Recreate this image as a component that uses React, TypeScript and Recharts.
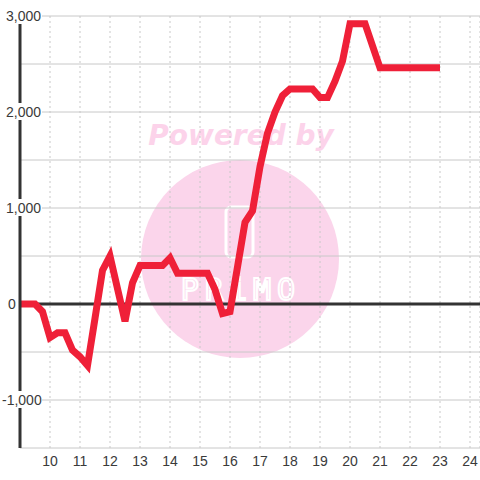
import { LineChart, Line, XAxis, YAxis, CartesianGrid, ReferenceLine } from "recharts";

// time of day (hours) and running total
const hours = [
  9, 9.5, 9.75, 10, 10.25, 10.5, 10.75, 11, 11.25, 11.5, 11.75, 12, 12.5, 12.75, 13, 13.75, 14,
  14.25, 15.25, 15.5, 15.75, 16, 16.5, 16.75, 17, 17.25, 17.5, 17.75, 18, 18.75, 19, 19.25, 19.5,
  19.75, 20, 20.5, 21, 23,
];
const totals = [
  0, 0, -80, -350, -300, -300, -480, -550, -640, -150, 350, 500, -180, 220, 400, 400, 480,
  320, 320, 150, -100, -80, 850, 970, 1430, 1780, 2000, 2170, 2240, 2240, 2150, 2150, 2320,
  2530, 2920, 2920, 2460, 2460,
];
const xTicks = [10, 11, 12, 13, 14, 15, 16, 17, 18, 19, 20, 21, 22, 23, 24];
const yTicks = [-1500, -1000, -500, 0, 500, 1000, 1500, 2000, 2500, 3000];

const data = hours.map((h, i) => ({ h, v: totals[i] }));

const fmt = (v: number) => (v < 0 ? "-" : "") + Math.abs(v).toLocaleString("en-US");

function YTick(props: any) {
  const { y, payload } = props;
  const v = payload.value;
  if (v % 1000 !== 0) return null;
  const label = fmt(v);
  const x = v < 0 ? 2 : v === 0 ? 8 : 6;
  const w = v === 0 ? 12 : 44 - x;
  return (
    <g>
      <rect x={x - 2} y={y - 9} width={w} height={17} fill="#fff" />
      <text x={x} y={y} dy="0.35em" textAnchor="start" fontSize={14} fill="#3a3a3a" fontFamily="Liberation Sans, Arial, sans-serif">
        {label}
      </text>
    </g>
  );
}

function Watermark() {
  return (
    <svg width={480} height={480} style={{ position: "absolute", left: 0, top: 0 }}>
      <circle cx={240} cy={259} r={99} fill="#fbd5eb" />
      <text x={241} y={145} textAnchor="middle" fontSize={28} fontWeight="bold" fontStyle="italic" fill="#fcd3ea" fontFamily="DejaVu Sans, sans-serif">
        Powered by
      </text>
      <rect x={226} y={207} width={27} height={50} rx={5} fill="none" stroke="#fff" strokeWidth={3} />
      <text x={241} y={300} textAnchor="middle" fontSize={30} letterSpacing={6} fill="none" stroke="#fff" strokeWidth={2} fontFamily="DejaVu Sans Mono, monospace">
        PRiMO
      </text>
    </svg>
  );
}

export default function App() {
  return (
    <div style={{ position: "fixed", left: 0, top: 0, width: 480, height: 480, background: "#fff" }}>
      <Watermark />
      <div style={{ position: "absolute", left: 0, top: 0 }}>
        <LineChart width={480} height={480} data={data} margin={{ top: 16, right: 0, bottom: 2, left: 0 }}>
          <CartesianGrid horizontal={false} stroke="#c8c8c8" strokeDasharray="2 3" />
          <CartesianGrid vertical={false} stroke="#c8c8c8" />
          <XAxis
            dataKey="h"
            type="number"
            domain={[9, 24 + 1 / 3]}
            ticks={xTicks}
            height={30}
            axisLine={false}
            tickLine={false}
            allowDataOverflow
            tick={{ fontSize: 14, fill: "#3a3a3a", fontFamily: "Liberation Sans, Arial, sans-serif" }}
          />
          <YAxis
            type="number"
            domain={[-1500, 3000]}
            ticks={yTicks}
            width={20}
            axisLine={{ stroke: "#333", strokeWidth: 3 }}
            tickLine={false}
            tick={<YTick />}
          />
          <ReferenceLine y={0} stroke="#333" strokeWidth={3} />
          <Line
            type="linear"
            dataKey="v"
            stroke="#ef2038"
            strokeWidth={7}
            dot={false}
            isAnimationActive={false}
          />
        </LineChart>
      </div>
    </div>
  );
}
